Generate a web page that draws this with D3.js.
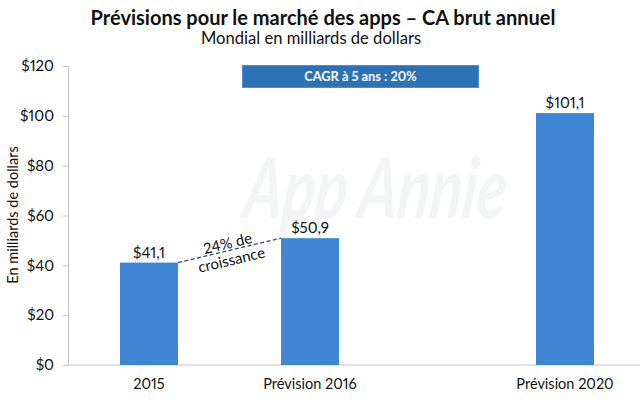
<!DOCTYPE html>
<html>
<head>
<meta charset="utf-8">
<script src="https://cdn.jsdelivr.net/npm/d3@7"></script>
<style>
  html, body { margin: 0; padding: 0; background: #fff; }
  svg { display: block; }
  text { font-family: Lato, "Open Sans", sans-serif; fill: #111; font-variant-numeric: proportional-nums; font-feature-settings: "pnum"; }
</style>
</head>
<body>
<script>
const categories = ["2015", "Prévision 2016", "Prévision 2020"];
const values = [41.1, 50.9, 101.1];
const valueLabels = ["$41,1", "$50,9", "$101,1"];
const yTicks = [0, 20, 40, 60, 80, 100, 120];

const width = 640,
  height = 407,
  barWidth = 58,
  blue = "#3e86d4",
  axisLeft = 68;

const svg = d3.select("body").append("svg")
  .attr("width", width)
  .attr("height", height);

// categories are not evenly spaced in the original
const x = d3.scaleOrdinal()
  .domain(categories)
  .range([149, 310, 565]);

const y = d3.scaleLinear()
  .domain([0, 120])
  .range([365, 66]);

// watermark
svg.append("text")
  .attr("transform", "translate(373,218) skewX(-6)")
  .attr("text-anchor", "middle")
  .attr("font-size", 84)
  .attr("font-style", "italic")
  .attr("font-weight", 700)
  .attr("textLength", 262)
  .attr("lengthAdjust", "spacingAndGlyphs")
  .style("fill", "#f3f4f6")
  .text("App Annie");

svg.append("text")
  .attr("x", 323)
  .attr("y", 25)
  .attr("text-anchor", "middle")
  .attr("font-size", 20)
  .attr("font-weight", 700)
  .text("Prévisions pour le marché des apps – CA brut annuel");

svg.append("text")
  .attr("x", 311)
  .attr("y", 44)
  .attr("text-anchor", "middle")
  .attr("font-size", 16.6)
  .text("Mondial en milliards de dollars");

// y axis
const yAxis = svg.append("g")
  .attr("transform", "translate(" + axisLeft + ",0)")
  .call(d3.axisLeft(y).tickValues(yTicks).tickSize(5).tickFormat(d => "$" + d));
yAxis.selectAll("path, line").attr("stroke", "#c4c4c4");
yAxis.selectAll("text")
  .attr("font-size", 15)
  .attr("x", -14)
  .style("font-family", "Lato");

// baseline
svg.append("line")
  .attr("x1", axisLeft)
  .attr("x2", width)
  .attr("y1", y(0))
  .attr("y2", y(0))
  .attr("stroke", "#c4c4c4");

svg.append("text")
  .attr("transform", "translate(18," + 215 + ") rotate(-90)")
  .attr("text-anchor", "middle")
  .attr("font-size", 14.5)
  .text("En milliards de dollars");

// bars
const g = svg.selectAll(".bar")
  .data(categories)
  .enter()
  .append("g")
  .attr("class", "bar");

g.append("rect")
  .attr("x", d => x(d) - barWidth / 2)
  .attr("y", (d, i) => y(values[i]))
  .attr("width", barWidth)
  .attr("height", (d, i) => y(0) - y(values[i]))
  .attr("fill", blue);

g.append("text")
  .attr("x", d => x(d))
  .attr("y", (d, i) => y(values[i]) - 5)
  .attr("text-anchor", "middle")
  .attr("font-size", 15)
  .text((d, i) => valueLabels[i]);

g.append("text")
  .attr("x", d => x(d))
  .attr("y", 389)
  .attr("text-anchor", "middle")
  .attr("font-size", 14.5)
  .text(d => d);

// growth connector between first two bars
const x1 = x(categories[0]) + barWidth / 2,
  y1 = y(values[0]),
  x2 = x(categories[1]) - barWidth / 2,
  y2 = y(values[1]);

svg.append("line")
  .attr("x1", x1)
  .attr("y1", y1)
  .attr("x2", x2)
  .attr("y2", y2)
  .attr("stroke", "#2f4a68")
  .attr("stroke-width", 1.3)
  .attr("stroke-dasharray", "4,2.5");

const angle = Math.atan2(y2 - y1, x2 - x1) * 180 / Math.PI;
const growth = svg.append("g")
  .attr("transform", "translate(" + (x1 + x2) / 2 + "," + ((y1 + y2) / 2 + 1) + ") rotate(" + angle + ")")
  .attr("text-anchor", "middle")
  .attr("font-size", 15);
growth.append("text").attr("y", -3).text("24% de");
growth.append("text").attr("y", 14).text("croissance");

// CAGR banner
svg.append("rect")
  .attr("x", 242.5)
  .attr("y", 65.5)
  .attr("width", 236)
  .attr("height", 22)
  .attr("fill", "#2c72b5")
  .attr("stroke", "#4a90d6");

svg.append("text")
  .attr("x", 360.5)
  .attr("y", 81)
  .attr("text-anchor", "middle")
  .attr("font-size", 12.8)
  .attr("font-weight", 700)
  .style("fill", "#fff")
  .text("CAGR à 5 ans : 20%");
</script>
</body>
</html>
